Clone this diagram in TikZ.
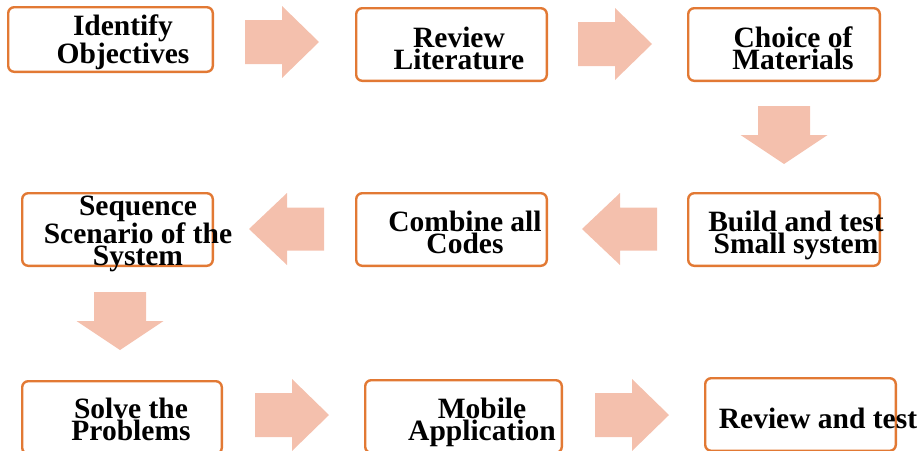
\documentclass[tikz,border=0pt]{standalone}
\usepackage{fontspec}
\setmainfont{Liberation Serif}
\usepackage{xcolor}
\definecolor{boxedge}{RGB}{226,121,52}
\definecolor{arrowfill}{RGB}{244,192,173}

\begin{document}
\begin{tikzpicture}[
  x=1pt,
  y=-1pt,
  line join=round,
  stepbox/.style={draw=boxedge,line width=2.4pt,rounded corners=6pt,
    minimum height=72.6pt,inner sep=0pt},
  steptext/.style={font=\fontsize{29.5}{21.5}\selectfont\bfseries,
    align=center,anchor=base,inner sep=0pt},
  blockarrow/.style={fill=arrowfill}
]
  \useasboundingbox (0,0) rectangle (923,450);

  % Block arrows pointing right (first and last row)
  \foreach \ax/\ay in {245/42, 578/44, 255/415, 595/415} {
    \fill[blockarrow] (\ax,\ay-22) -- (\ax+37,\ay-22) -- (\ax+37,\ay-36)
      -- (\ax+74,\ay) -- (\ax+37,\ay+36) -- (\ax+37,\ay+22)
      -- (\ax,\ay+22) -- cycle;
  }

  % Block arrows pointing left (middle row), tip first
  \foreach \ax/\ay in {249/229, 582/229} {
    \fill[blockarrow] (\ax,\ay) -- (\ax+38,\ay-36) -- (\ax+38,\ay-21.5)
      -- (\ax+75,\ay-21.5) -- (\ax+75,\ay+21.5) -- (\ax+38,\ay+21.5)
      -- (\ax+38,\ay+36) -- cycle;
  }

  % Block arrows pointing down between the rows
  \foreach \ax/\ay in {784/106, 120/292} {
    \fill[blockarrow] (\ax-26,\ay) -- (\ax+26,\ay) -- (\ax+26,\ay+29)
      -- (\ax+43.5,\ay+29) -- (\ax,\ay+58) -- (\ax-43.5,\ay+29)
      -- (\ax-26,\ay+29) -- cycle;
  }

  % Step boxes
  \node[stepbox,minimum width=204.6pt,minimum height=64.6pt] (identify)
    at (110.5,39.5) {};
  \node[stepbox,minimum width=190.6pt] (review) at (451.5,44.5) {};
  \node[stepbox,minimum width=191.6pt] (choice) at (784,44.5) {};
  \node[stepbox,minimum width=191.6pt] (build) at (784,229.5) {};
  \node[stepbox,minimum width=190.6pt] (combine) at (451.5,229.5) {};
  \node[stepbox,minimum width=190.6pt] (sequence) at (117.5,229.5) {};
  \node[stepbox,minimum width=199.6pt] (solve) at (122,417.5) {};
  \node[stepbox,minimum width=196.6pt] (mobile) at (463.5,416.5) {};
  \node[stepbox,minimum width=190.6pt] (reviewtest) at (800.5,414.5) {};

  % Step texts, placed on the baseline of their last line
  \node[steptext] (identifytext) at (123,63) {Identify\\Objectives};
  \node[steptext] (reviewtext) at (459,69) {Review\\Literature};
  \node[steptext] (choicetext) at (793,69) {Choice of\\Materials};
  \node[steptext] (buildtext) at (796,253) {Build and test\\Small system};
  \node[steptext] (combinetext) at (465,253) {Combine all\\Codes};
  \node[steptext] (sequencetext) at (138,265)
    {Sequence\\Scenario of the\\System};
  \node[steptext] (solvetext) at (131,440) {Solve the\\Problems};
  \node[steptext] (mobiletext) at (482,440) {Mobile\\Application};
  \node[steptext] (reviewtesttext) at (818,428) {Review and test};

\end{tikzpicture}
\end{document}
